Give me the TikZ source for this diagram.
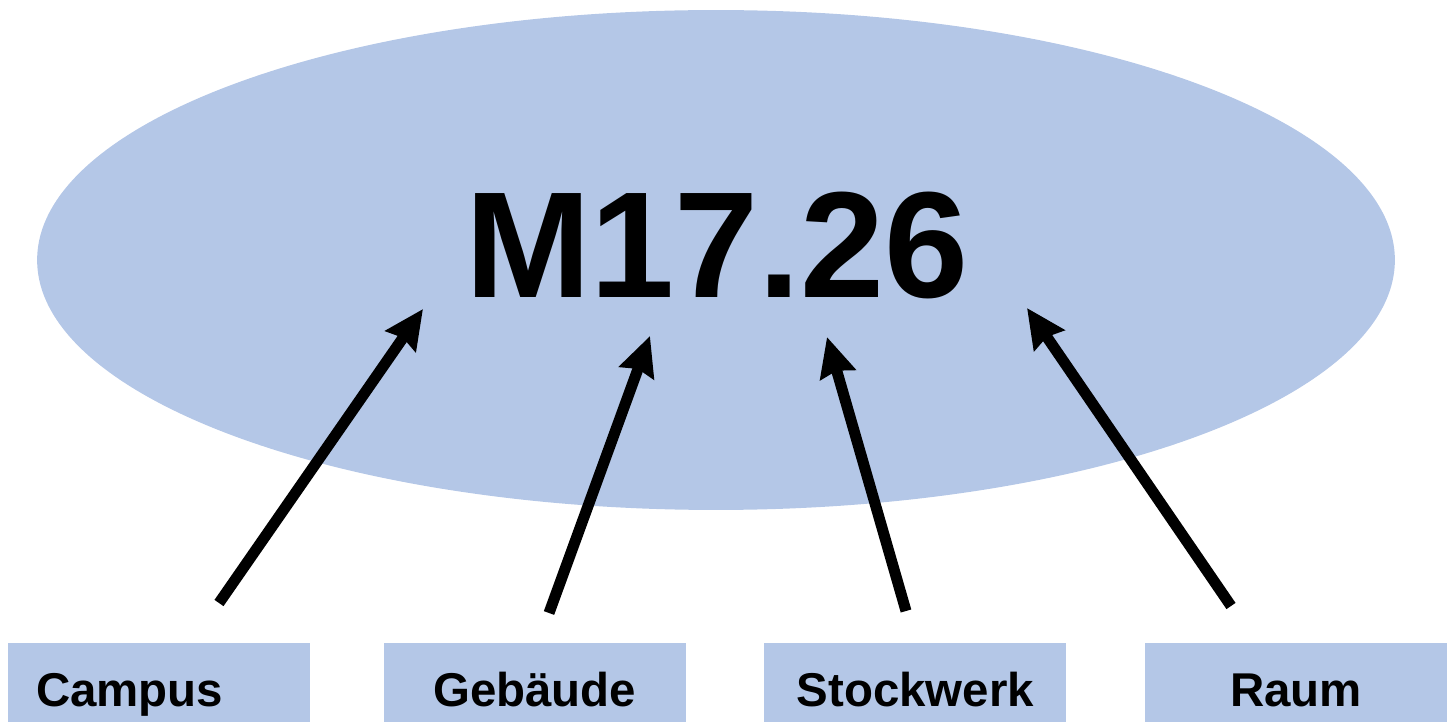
\documentclass[tikz,border=0pt]{standalone}
\usepackage{fontspec}
\setmainfont{Liberation Sans}
\usetikzlibrary{shapes,arrows}
\usetikzlibrary{arrows.meta, positioning}
\definecolor{ovalblue}{RGB}{180,199,231}

\begin{document}
\begin{tikzpicture}[x=0.02cm, y=-0.02cm, node distance=1.56cm,
    part/.style={fill=ovalblue, minimum height=1.88cm, text width=4.92cm, inner xsep=0.56cm, inner ysep=0pt, align=center, font=\fontsize{27}{30}\selectfont\bfseries, text height=18.6pt, text depth=0pt},
    pointer/.style={line width=0.22cm, -{Stealth[length=0.78cm, width=0.72cm, inset=0.08cm]}}]
            \path[use as bounding box, clip] (0,0) rectangle (1453,722);
            \node[ellipse, fill=ovalblue, minimum width=27.16cm, minimum height=10cm, inner sep=0pt] (oval) at (716,260) {};
            \node[font=\fontsize{86}{90}\selectfont\bfseries, text height=59.3pt, text depth=0pt, inner sep=0pt] (code) at (717,245) {M17.26};
            \node[part, align=left, anchor=north] (campus) at (159,643) {Campus};
            \node[part] (gebaeude) [right=1.46cm of campus] {Gebäude};
            \node[part] (stockwerk) [right=of gebaeude] {Stockwerk};
            \node[part] (raum) [right=of stockwerk] {Raum};
            \coordinate (campus foot) at (219,603);
            \coordinate (campus tip) at (423,309);
            \coordinate (gebaeude foot) at (549,613);
            \coordinate (gebaeude tip) at (650,336);
            \coordinate (stockwerk foot) at (906,611);
            \coordinate (stockwerk tip) at (827,337);
            \coordinate (raum foot) at (1231,606);
            \coordinate (raum tip) at (1027,308);
            \draw[pointer] (campus foot) -- (campus tip);
            \draw[pointer] (gebaeude foot) -- (gebaeude tip);
            \draw[pointer] (stockwerk foot) -- (stockwerk tip);
            \draw[pointer] (raum foot) -- (raum tip);
        \end{tikzpicture}
\end{document}
